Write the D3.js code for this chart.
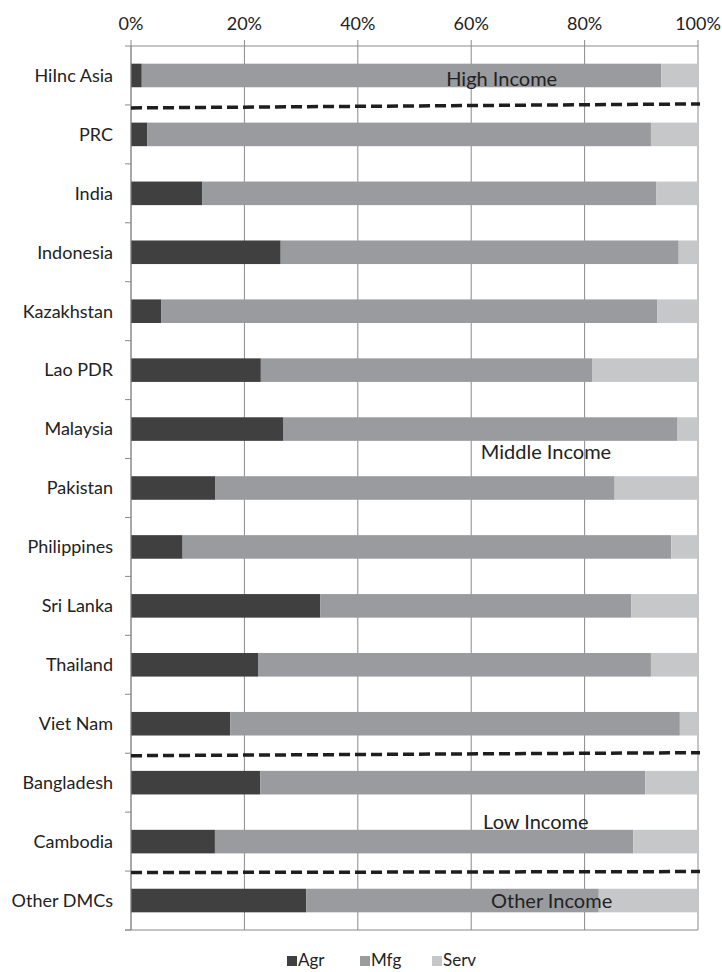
<!DOCTYPE html>
<html><head><meta charset="utf-8">
<script src="https://cdn.jsdelivr.net/npm/d3@7"></script>
<style>
body{margin:0;background:#fff;}
text{font-family:Lato,"Open Sans",sans-serif;fill:#222;}
</style></head>
<body>
<svg id="c" width="722" height="972"></svg>
<script>
const categories = ["HiInc Asia","PRC","India","Indonesia","Kazakhstan","Lao PDR","Malaysia","Pakistan","Philippines","Sri Lanka","Thailand","Viet Nam","Bangladesh","Cambodia","Other DMCs"];
const agr  = [1.9, 2.9, 12.6, 26.4, 5.3, 22.9, 26.9, 14.9, 9.1, 33.4, 22.4, 17.5, 22.8, 14.8, 30.9];
const mfg  = [91.6, 88.8, 80.0, 70.2, 87.5, 58.5, 69.5, 70.4, 86.2, 54.8, 69.3, 79.3, 67.9, 73.8, 51.6];
const serv = categories.map((c,i)=>+(100-agr[i]-mfg[i]).toFixed(1));
const seriesNames = ["Agr","Mfg","Serv"];
const colors = ["#404040","#9a9b9e","#c6c7c8"];
const xTicks = [0,20,40,60,80,100];
const groups = [
  {label:"High Income", after:"HiInc Asia", labelCat:"HiInc Asia", lx:55.6, dy:4},
  {label:"Middle Income", after:"Viet Nam", labelCat:"Malaysia", lx:61.7, dy:23},
  {label:"Low Income", after:"Cambodia", labelCat:"Cambodia", lx:62.1, dy:-20},
  {label:"Other Income", after:null, labelCat:"Other DMCs", lx:63.5, dy:0}
];

const svg = d3.select("#c");
const L=131, R=698, T=46, B=930;
const x = d3.scaleLinear().domain([0,100]).range([L,R]);
const y = d3.scaleBand().domain(categories).range([T,B]).paddingInner(0.6).paddingOuter(0.3);

// gridlines
svg.append("g").selectAll("line").data(xTicks).join("line")
  .attr("x1",d=>x(d)).attr("x2",d=>x(d)).attr("y1",40).attr("y2",B)
  .attr("stroke","#8a8a8a").attr("stroke-width",1);
// top axis line
svg.append("line").attr("x1",L).attr("x2",R).attr("y1",T).attr("y2",T).attr("stroke","#8a8a8a");
// top tick labels
svg.append("g").selectAll("text").data(xTicks).join("text")
  .attr("x",d=>x(d)).attr("y",24).attr("dy","0.35em").attr("text-anchor","middle")
  .attr("font-size",18).text(d=>d+"%");
// bottom axis line
svg.append("line").attr("x1",L-6).attr("x2",R).attr("y1",B).attr("y2",B).attr("stroke","#8a8a8a");
// left axis ticks
const bounds = d3.range(categories.length+1).map(i=>T+i*y.step());
svg.append("g").selectAll("line").data(bounds).join("line")
  .attr("x1",L-6).attr("x2",L).attr("y1",d=>d).attr("y2",d=>d).attr("stroke","#8a8a8a");

// stacked bars
const rows = categories.map((c,i)=>({cat:c,Agr:agr[i],Mfg:mfg[i],Serv:serv[i]}));
const stack = d3.stack().keys(seriesNames)(rows);
svg.append("g").selectAll("g").data(stack).join("g").attr("fill",(d,i)=>colors[i])
  .selectAll("rect").data(d=>d).join("rect")
  .attr("x",d=>x(d[0])).attr("width",d=>Math.max(0,x(Math.min(100,d[1]))-x(d[0])))
  .attr("y",d=>y(d.data.cat)).attr("height",y.bandwidth());

// left axis line
svg.append("line").attr("x1",L).attr("x2",L).attr("y1",T).attr("y2",B).attr("stroke","#8a8a8a");

// category labels
svg.append("g").selectAll("text").data(categories).join("text")
  .attr("x",113).attr("y",d=>y(d)+y.bandwidth()/2).attr("dy","0.35em")
  .attr("text-anchor","end").attr("font-size",18).text(d=>d);

// dashed separators
groups.filter(g=>g.after).forEach((g,k)=>{
  const i = categories.indexOf(g.after);
  const yb = T + (i+1)*y.step();
  const tilt = [4,3,1][k];
  svg.append("line").attr("x1",L).attr("x2",R+2)
    .attr("y1",yb+1+tilt/2).attr("y2",yb+1-tilt/2)
    .attr("stroke","#1e1e1e").attr("stroke-width",3.5).attr("stroke-dasharray","11,5");
});
// group labels
svg.append("g").selectAll("text").data(groups).join("text")
  .attr("x",d=>x(d.lx)).attr("y",d=>y(d.labelCat)+y.bandwidth()/2+d.dy).attr("dy","0.35em")
  .attr("font-size",20).text(d=>d.label);

// legend
const lg = svg.append("g").attr("transform","translate(0,960)");
const lx = [287,360,432];
seriesNames.forEach((s,i)=>{
  lg.append("rect").attr("x",lx[i]).attr("y",-4).attr("width",10).attr("height",10).attr("fill",colors[i]);
  lg.append("text").attr("x",lx[i]+11).attr("y",0).attr("dy","0.35em").attr("font-size",17).text(s);
});
</script>
</body></html>
